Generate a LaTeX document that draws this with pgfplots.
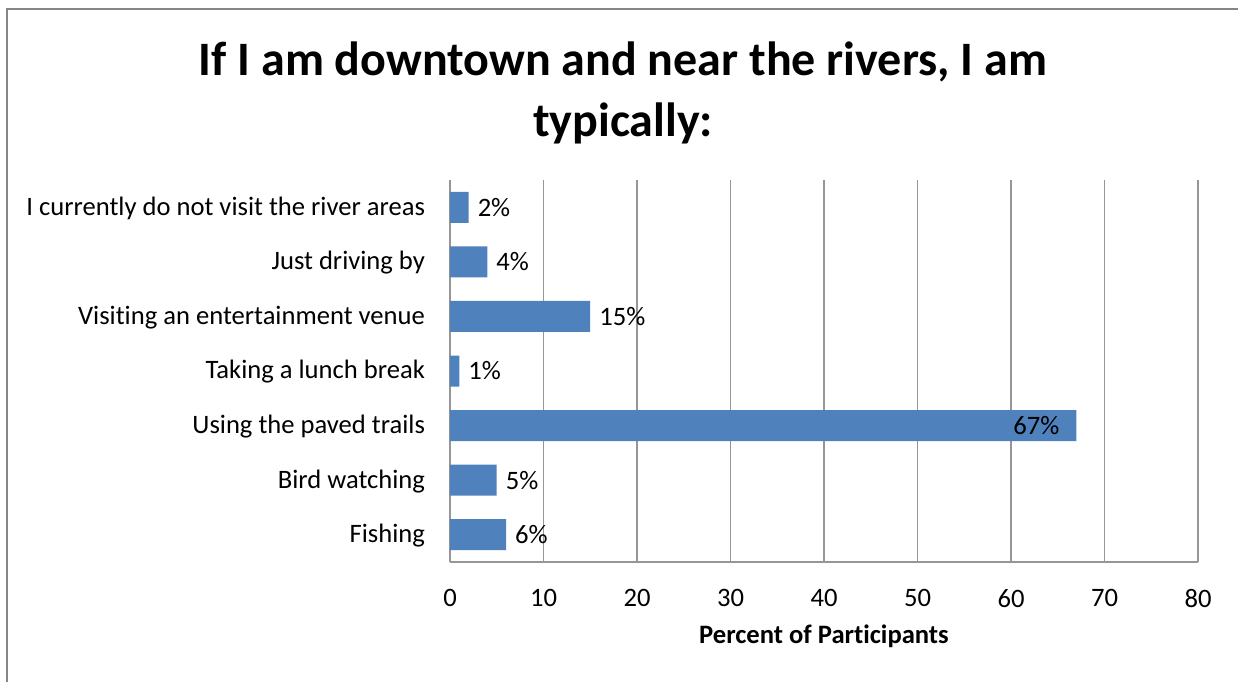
\documentclass[border=0pt]{standalone}
\usepackage{fontspec}
\setmainfont{Carlito}[Ligatures={NoCommon}]
\usepackage{pgfplots}
\pgfplotsset{compat=1.18}
\usepackage{pgfplotstable}
\definecolor{barblue}{HTML}{4F81BD}
\definecolor{gridgray}{HTML}{969696}
\definecolor{framegray}{HTML}{868686}
\pgfplotstableread{
y x lab
0 6 6\%
1 5 5\%
2 67 {}
3 1 1\%
4 15 15\%
5 4 4\%
6 2 2\%
}\datatab
\begin{document}
\begin{tikzpicture}
\useasboundingbox (0,0) rectangle (619pt,340.5pt);
\draw[framegray, line width=1.2pt] (3.6pt,-5pt) -- (3.6pt,336pt) -- (630pt,336pt);
\node[align=center, font=\fontsize{24}{30.5}\selectfont\bfseries] at (311.5pt,294pt)
  {If I am downtown and near the rivers, I am\\typically:};
\begin{axis}[
  scale only axis,
  width=374pt, height=191pt,
  at={(225pt,59.5pt)}, anchor=south west,
  xbar, bar width=15.5pt, bar shift=0pt,
  xmin=0, xmax=80, ymin=-0.5, ymax=6.5,
  xtick={0,10,...,80},
  ytick={0,...,6},
  yticklabels={Fishing, Bird watching, Using the paved trails, Taking a lunch break, Visiting an entertainment venue, Just driving by, I currently do not visit the river areas},
  axis x line*=bottom, axis y line*=left,
  axis line style={gridgray, line width=0.8pt, -},
  xmajorgrids, major grid style={gridgray, line width=0.8pt},
  major tick length=0pt,
  tick label style={font=\fontsize{13.3}{15}\selectfont},
  /pgf/number format/assume math mode=true,
  yticklabel style={xshift=-9pt, yshift=-0.5pt},
  xticklabel style={yshift=-10pt},
  xlabel={Percent of Participants},
  xlabel style={font=\fontsize{13.3}{15}\selectfont\bfseries, at={(axis description cs:0.5,0)}, anchor=center, yshift=-37pt},
  nodes near coords={\pgfplotspointmeta},
  point meta=explicit symbolic,
  every node near coord/.append style={font=\fontsize{13.3}{15}\selectfont, anchor=west, xshift=1pt},
]
\addplot[fill=barblue, draw=none] table[x=x, y=y, meta=lab] {\datatab};
\addplot[draw=none, fill=none, forget plot,
  every node near coord/.append style={anchor=east, xshift=-6pt}] coordinates {(67,2) [67\%]};
\end{axis}
\end{tikzpicture}
\end{document}
